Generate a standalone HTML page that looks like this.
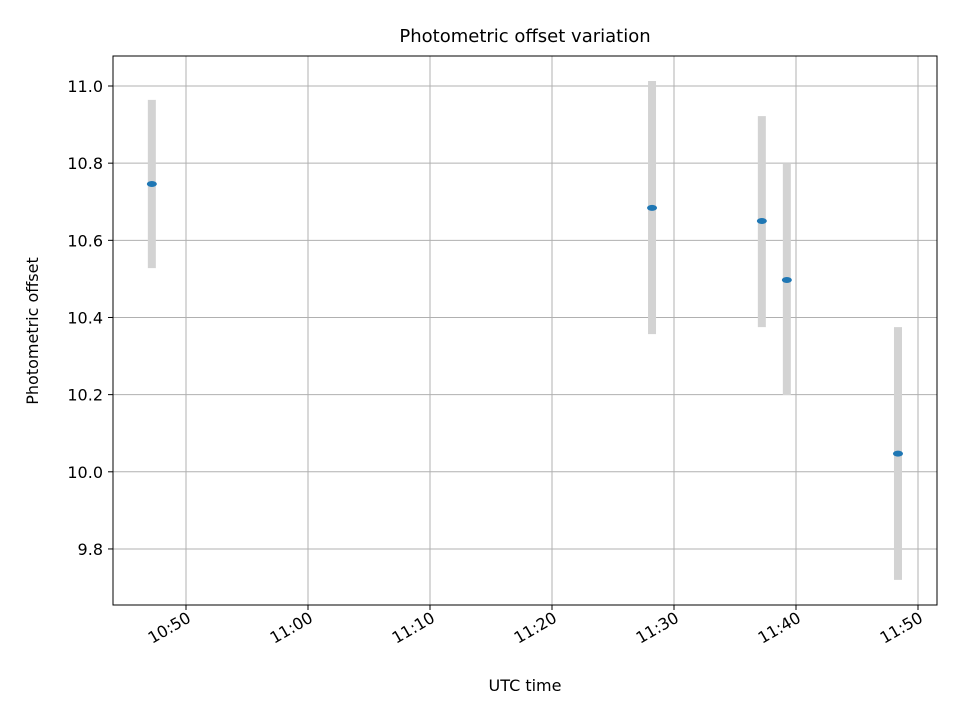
<!DOCTYPE html>
<html><head><meta charset="utf-8"><style>
body{margin:0;background:#fff;font-family:"Liberation Sans","DejaVu Sans",sans-serif}
svg text{font-family:"DejaVu Sans","Liberation Sans",sans-serif}
</style></head><body>
<svg id="c" width="960" height="720" viewBox="0 0 960 720">
<rect x="0" y="0" width="960" height="720" fill="#fff"/>
<g id="grid"></g><g id="bars"></g><g id="pts"></g><g id="axes"></g>
<text x="525" y="42" font-size="18" text-anchor="middle">Photometric offset variation</text>
<text x="525" y="691" font-size="16" text-anchor="middle">UTC time</text>
<text transform="translate(38,331) rotate(-90)" font-size="16" text-anchor="middle">Photometric offset</text>
</svg>
<script>
// minutes after 10:00 UTC
const times=[47.2,88.2,97.2,99.25,108.36];
const values=[10.746,10.684,10.650,10.497,10.047];
const lows=[10.528,10.357,10.375,10.199,9.720];
const highs=[10.964,11.013,10.922,10.800,10.375];
const yTicks=[9.8,10.0,10.2,10.4,10.6,10.8,11.0];
const xTicks=[50,60,70,80,90,100,110];
const xTickLabels=["10:50","11:00","11:10","11:20","11:30","11:40","11:50"];
const L=113,R=937,T=56,B=605;
const xs=m=>186+(m-50)*12.2;
const ys=v=>86+(11.0-v)*385.8;
const NS="http://www.w3.org/2000/svg";
function mk(p,tag,a){const e=document.createElementNS(NS,tag);for(const k in a)e.setAttribute(k,a[k]);p.appendChild(e);return e;}
const grid=document.getElementById('grid'),axes=document.getElementById('axes'),bars=document.getElementById('bars'),pts=document.getElementById('pts');
yTicks.forEach(v=>{const y=ys(v);
 const g=mk(grid,'line',{x1:L,x2:R,y1:y,y2:y,stroke:'#b0b0b0','stroke-width':1});
 
 
 mk(axes,'line',{x1:L-5,x2:L,y1:y,y2:y,stroke:'#000'});
 const t=mk(axes,'text',{x:L-10,y:y+6,'font-size':16,'text-anchor':'end'});t.textContent=v.toFixed(1);
 
 
});
xTicks.forEach((m,i)=>{const x=xs(m);
 const g=mk(grid,'line',{x1:x,x2:x,y1:T,y2:B,stroke:'#b0b0b0','stroke-width':1});
 
 
 mk(axes,'line',{x1:x,x2:x,y1:B,y2:B+5,stroke:'#000'});
 const t=mk(axes,'text',{x:x+6,y:B+16,'font-size':16,'text-anchor':'end',transform:`rotate(-30 ${x+6} ${B+16})`});t.textContent=xTickLabels[i];
 
 
});
mk(axes,'rect',{x:L,y:T,width:R-L,height:B-T,fill:'none',stroke:'#000','stroke-width':1});
times.forEach((m,i)=>{const x=xs(m);
 const b=mk(bars,'line',{x1:x,x2:x,y1:ys(highs[i]),y2:ys(lows[i]),stroke:'#d3d3d3','stroke-width':8});
 
 
 const p=mk(pts,'ellipse',{cx:x,cy:ys(values[i]),rx:5,ry:3,fill:'#1f77b4'});
 
 
});
</script>
</body></html>
